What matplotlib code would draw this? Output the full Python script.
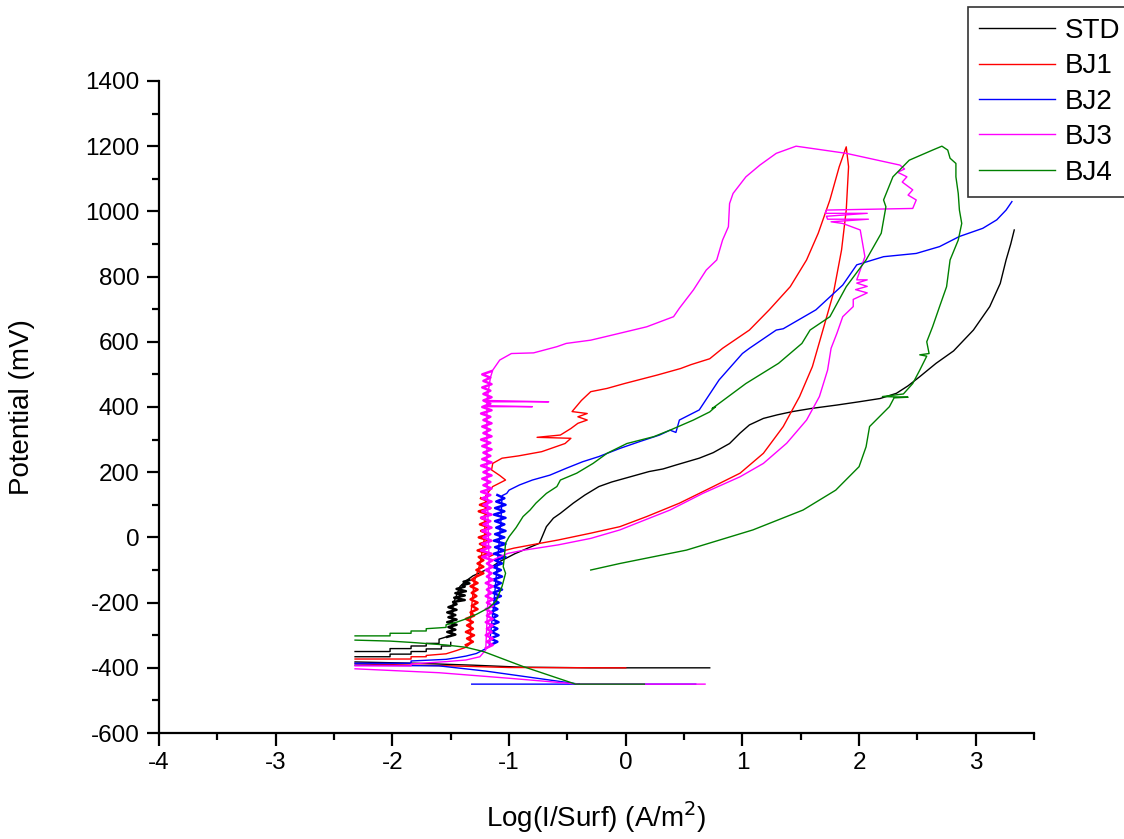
import matplotlib
matplotlib.use("Agg")
import matplotlib.pyplot as plt
from matplotlib.ticker import MultipleLocator

plt.rcParams['font.family'] = ['Liberation Sans', 'DejaVu Sans']
plt.rcParams['axes.unicode_minus'] = False

nan = float('nan')

# STD (black): cathodic tail, two stepped lines, anodic branch
std_x = [0.72, -0.3, -0.9, -1.3, -1.8, -2.32, nan,
         -2.32, -2.02, -2.02, -1.84, -1.84, -1.71, -1.71, -1.58, -1.58, -1.5, -1.5, nan,
         -2.32, -2.02, -2.02, -1.84, -1.84, -1.71, -1.71, -1.6, -1.6,
         -1.49, -1.48, -1.42, -1.36,
         -1.31, -1.25, -1.17, -1.08, -0.95, -0.82, -0.74, -0.68, -0.62, -0.56, -0.45, -0.35, -0.23,
         -0.12, -0.06, 0.1, 0.2, 0.32, 0.43, 0.63, 0.75, 0.89, 0.98, 1.06, 1.18, 1.3, 1.43, 1.6,
         1.81, 2.0, 2.18, 2.32, 2.42, 2.52, 2.66, 2.81, 2.98, 3.12, 3.21, 3.26, 3.3, 3.33]
std_y = [-400, -400, -398, -392, -386, -382, nan,
         -366, -366, -358, -358, -350, -350, -342, -342, -333, -333, -322, nan,
         -350, -350, -341, -341, -333, -333, -325, -325, -312,
         -300, -205, -150, -131,
         -118, -108, -95, -74, -50, -30, -18, 33, 59, 74, 105, 130, 156,
         170, 176, 192, 202, 210, 222, 243, 260, 288, 320, 345, 365, 376, 386, 396,
         406, 416, 426, 442, 465, 493, 534, 572, 636, 708, 779, 851, 900, 943]
# noisy column near the corrosion potential
std_band_x = [-1.53, -1.46, -1.53, -1.46, -1.52, -1.45, -1.53, -1.45, -1.52, -1.46, -1.53, -1.45, -1.52, -1.45,
              -1.48, -1.38, -1.47, -1.38, -1.46, -1.37, -1.45, -1.38,
              -1.40, -1.34, -1.39, -1.34]
std_band_y = [-305, -298, -290, -283, -275, -268, -260, -252, -245, -238, -230, -222, -214, -205,
              -198, -192, -185, -178, -171, -165, -158, -151,
              -146, -141, -136, -131]

# BJ1 (red)
bj1_x = [0.0, -1.0, -1.5, -2.32, nan,
         -2.32, -1.84, -1.84, -1.71, -1.71, -1.54, -1.45, -1.37,
         -1.33, -1.33, -1.30, -1.25, -1.21, -1.20,
         -1.14, -1.03, -1.08, -1.15, -1.14, -1.06, -0.92, -0.72, -0.64, -0.52, -0.47, -0.76, -0.56, -0.47,
         -0.41, -0.33, -0.41, -0.33, -0.46, -0.38, -0.30, -0.16, -0.01, 0.13, 0.27, 0.47, 0.56, 0.72,
         0.83, 1.06, 1.23, 1.41, 1.55, 1.65, 1.75, 1.83, 1.89,
         1.91, 1.89, 1.85, 1.78, 1.69, 1.60, 1.49, 1.35, 1.18, 0.98, 0.75, 0.46, 0.18, -0.05, -0.30,
         -0.58, -0.81, -0.96, -1.08, -1.17]
bj1_y = [-400, -399, -394, -388, nan,
         -373, -373, -366, -366, -362, -357, -347, -337,
         -325, -246, -138, -82, 0, 128,
         156, 176, 190, 207, 227, 243, 250, 263, 273, 288, 304, 307, 314, 334,
         350, 360, 370, 380, 386, 420, 447, 457, 472, 485, 498, 518, 530, 548,
         580, 636, 698, 769, 851, 933, 1035, 1137, 1198,
         1137, 1004, 882, 749, 636, 524, 432, 340, 258, 197, 156, 105, 64, 33, 13,
         -8, -23, -33, -44, -59]
bj1_band_x = [-1.37, -1.31, -1.36, -1.30, -1.37, -1.31, -1.36, -1.31, -1.37, -1.30,
              -1.33, -1.27, -1.32, -1.27, -1.33, -1.28, -1.32, -1.27, -1.33, -1.27, -1.32,
              -1.28, -1.22, -1.28, -1.22, -1.27, -1.22,
              -1.26, -1.17, -1.27, -1.18, -1.25, -1.16, -1.26, -1.17, -1.24, -1.16, -1.25, -1.18, -1.24,
              -1.17, -1.26, -1.16, -1.25, -1.17, -1.24]
bj1_band_y = [-330, -320, -310, -300, -290, -280, -270, -260, -250, -240,
              -230, -220, -210, -200, -190, -180, -170, -160, -150, -140, -130,
              -120, -110, -100, -90, -80, -70,
              -60, -50, -40, -30, -20, -10, 0, 10, 20, 30, 40, 50, 60,
              70, 80, 90, 100, 110, 120]

# BJ2 (blue)
bj2_x = [0.6, -1.32, nan,
         -2.32, -1.6, -1.2, -0.8, -0.4, nan,
         -2.32, -1.84, -1.84, -1.54, -1.45, -1.37, -1.28, -1.22, -1.17,
         -1.13, -1.10, -1.07, -1.06,
         -1.02, -1.0, -0.91, -0.80, -0.65, -0.51, -0.37, -0.23, -0.05, 0.12, 0.29, 0.38, 0.43, 0.46,
         0.63, 0.80, 1.0, 1.06, 1.29, 1.35, 1.63, 1.86, 1.98, 2.21, 2.49, 2.69, 2.86, 3.06, 3.18,
         3.26, 3.31]
bj2_y = [-450, -450, nan,
         -392, -394, -410, -430, -450, nan,
         -386, -386, -379, -374, -369, -364, -356, -345, -335,
         -200, -80, 50, 128,
         135, 145, 161, 176, 191, 212, 232, 248, 273, 294, 314, 329, 322, 360,
         391, 483, 564, 580, 636, 640, 698, 774, 836, 861, 871, 892, 923, 948, 974,
         1004, 1030]
bj2_band_x = [-1.16, -1.10, -1.16, -1.09, -1.15, -1.10, -1.16, -1.09, -1.15, -1.10, -1.16, -1.10, -1.15, -1.09,
              -1.14, -1.07, -1.14, -1.06, -1.13, -1.07, -1.14, -1.06, -1.13, -1.07, -1.14, -1.06,
              -1.12, -1.03, -1.13, -1.04, -1.12, -1.03, -1.13, -1.04, -1.12, -1.03, -1.11,
              -1.04, -1.12, -1.03, -1.13, -1.04, -1.12, -1.03, -1.11, -1.04, -1.10]
bj2_band_y = [-330, -320, -310, -300, -290, -280, -270, -260, -250, -240, -230, -220, -210, -200,
              -190, -180, -170, -160, -150, -140, -130, -120, -110, -100, -90, -80,
              -70, -60, -50, -40, -30, -20, -10, 0, 10, 20, 30,
              40, 50, 60, 70, 80, 90, 100, 110, 120, 130]

# BJ3 (magenta)
bj3_x = [0.68, -0.4, -1.0, -1.6, -2.32, nan,
         -2.32, -1.84, -1.84, -1.54, -1.37, -1.25, -1.2,
         -1.17, -1.19, -1.19, -0.80, -1.19, -1.19, -0.66, -1.19, -1.16, -1.14,
         -1.08, -0.98, -0.79, -0.59, -0.51, -0.30, -0.17, 0.18, 0.41, 0.46, 0.58, 0.69, 0.78, 0.83,
         0.88, 0.89, 0.92, 1.03, 1.15, 1.29, 1.46, 1.89, 2.35, 2.39, 2.33, 2.41, 2.37, 2.46, 2.42,
         2.49, 2.46, 1.72, 1.71, 2.07, 1.72, 1.73, 2.08, 1.76, 1.86, 2.01, 2.03, 2.05, 2.01, 1.98,
         2.07, 1.98, 2.07, 1.97, 2.07, 1.95, 1.95, 1.86, 1.81, 1.76, 1.73, 1.66, 1.55, 1.38, 1.18,
         0.98, 0.66, 0.38, 0.09, -0.05, -0.30, -0.58, -0.87, -1.01, -1.14]
bj3_y = [-450, -450, -432, -415, -403, nan,
         -394, -394, -388, -381, -376, -366, -345,
         -100, 200, 401, 401, 404, 416, 416, 420, 490, 513,
         544, 564, 566, 585, 595, 605, 616, 646, 677, 703, 759, 820, 851, 912,
         953, 1024, 1055, 1106, 1142, 1178, 1200, 1178, 1142, 1130, 1120, 1106, 1090, 1066, 1050,
         1035, 1009, 1004, 994, 994, 985, 976, 976, 968, 963, 943, 902, 861, 820, 790,
         790, 780, 770, 760, 750, 730, 708, 677, 626, 580, 513, 432, 360, 289, 227,
         186, 135, 84, 43, 23, -3, -23, -39, -49, -69]
bj3_band_x = [-1.20, -1.14, -1.19, -1.14, -1.20, -1.15, -1.19, -1.14, -1.20, -1.14,
              -1.19, -1.15, -1.20, -1.14, -1.19, -1.14, -1.20, -1.15, -1.19, -1.14,
              -1.20, -1.14, -1.19, -1.15, -1.20, -1.14, -1.19, -1.14,
              -1.23, -1.15, -1.24, -1.16, -1.23, -1.15, -1.22, -1.16, -1.23, -1.15,
              -1.22, -1.16, -1.24, -1.15, -1.23, -1.16, -1.22, -1.15, -1.23, -1.16,
              -1.24, -1.15, -1.22, -1.16, -1.23, -1.15, -1.22, -1.16, -1.24, -1.15,
              -1.23, -1.16, -1.22, -1.15, -1.23, -1.16, -1.24, -1.15, -1.22, -1.16,
              -1.23, -1.15, -1.22, -1.16, -1.24, -1.15, -1.23, -1.16, -1.22, -1.15,
              -1.22, -1.16, -1.23, -1.15, -1.22, -1.16, -1.23, -1.15]
bj3_band_y = [-340, -330, -320, -310, -300, -290, -280, -270, -260, -250,
              -240, -230, -220, -210, -200, -190, -180, -170, -160, -150,
              -140, -130, -120, -110, -100, -90, -80, -70,
              -60, -50, -40, -30, -20, -10, 0, 10, 20, 30,
              40, 50, 60, 70, 80, 90, 100, 110, 120, 130,
              140, 150, 160, 170, 180, 190, 200, 210, 220, 230,
              240, 250, 260, 270, 280, 290, 300, 310, 320, 330,
              340, 350, 360, 370, 380, 390, 400, 410, 420, 430,
              440, 450, 460, 470, 480, 490, 500, 510]

# BJ4 (green)
bj4_x = [0.16, -0.43, -0.88, -1.22, -1.37, -1.54, -1.84, -2.02, -2.32, nan,
         -2.32, -2.02, -2.02, -1.84, -1.84, -1.71, -1.71, -1.54, -1.54, -1.45, -1.37, -1.28, -1.17,
         -1.11, -1.06, -1.03, -1.05, -1.04, -1.03, -1.0, -0.94, -0.88, -0.82, -0.77, -0.74, -0.68,
         -0.59, -0.56, -0.42, -0.28, -0.16, 0.01, 0.24, 0.38, 0.58, 0.72, 0.77, 0.74, 1.03, 1.31, 1.51,
         1.58, 1.75, 1.89, 2.06, 2.19, 2.23, 2.21, 2.29, 2.43, 2.63, 2.71, 2.76, 2.78, 2.83, 2.83,
         2.85, 2.86, 2.88, 2.85, 2.78, 2.75, 2.69, 2.63, 2.58, 2.60, 2.52, 2.58, 2.52, 2.46, 2.38,
         2.20, 2.42, 2.30, 2.26, 2.09, 2.06, 2.00, 1.80, 1.52, 1.09, 0.52, -0.05, -0.30]
bj4_y = [-450, -450, -396, -350, -337, -330, -322, -318, -315, nan,
         -302, -302, -294, -294, -287, -287, -280, -276, -268, -260, -250, -236, -215,
         -195, -150, -110, -90, -59, -18, 2, 30, 64, 84, 105, 115, 135,
         156, 176, 197, 227, 258, 288, 309, 329, 360, 385, 401, 395, 472, 534, 595,
         636, 677, 769, 851, 933, 1014, 1035, 1106, 1157, 1188, 1200, 1188, 1163, 1147, 1106,
         1055, 1004, 963, 912, 851, 769, 708, 646, 600, 564, 560, 556, 513, 472, 440,
         432, 430, 428, 401, 340, 278, 217, 145, 84, 23, -39, -80, -100]

labels = ['STD', 'BJ1', 'BJ2', 'BJ3', 'BJ4']
colors = ['black', '#ff0000', '#0000ff', '#ff00ff', '#008000']
series = [(std_x, std_y), (bj1_x, bj1_y), (bj2_x, bj2_y), (bj3_x, bj3_y), (bj4_x, bj4_y)]
bands = [(std_band_x, std_band_y), (bj1_band_x, bj1_band_y), (bj2_band_x, bj2_band_y),
         (bj3_band_x, bj3_band_y), None]

fig = plt.figure(figsize=(11.24, 8.39), dpi=100)
ax = fig.add_axes([0.1415, 0.1263, 0.7785, 0.7772])

for (xs, ys), band, lab, col in zip(series, bands, labels, colors):
    ax.plot(xs, ys, color=col, lw=1.0, label=lab)
    if band is not None:
        ax.plot(band[0], band[1], color=col, lw=1.8)

ax.set_xlim(-4, 3.5)
ax.set_ylim(-600, 1400)
ax.xaxis.set_major_locator(MultipleLocator(1))
ax.xaxis.set_minor_locator(MultipleLocator(0.5))
ax.yaxis.set_major_locator(MultipleLocator(200))
ax.yaxis.set_minor_locator(MultipleLocator(100))

for s in ['top', 'right']:
    ax.spines[s].set_visible(False)
for s in ['left', 'bottom']:
    ax.spines[s].set_linewidth(1.6)

ax.tick_params(which='major', direction='out', length=9, width=1.6, labelsize=17.5, pad=5)
ax.tick_params(which='minor', direction='out', length=5, width=1.6)

ax.set_xlabel('Log(I/Surf) (A/m$^2$)', fontsize=20, labelpad=18)
ax.set_ylabel('Potential (mV)', fontsize=20, labelpad=36)

# legend box runs past the right edge of the figure, as in the original
leg = ax.legend(loc='upper left', bbox_to_anchor=(0.861, 0.992), bbox_transform=fig.transFigure,
                fontsize=20, frameon=True, fancybox=False, framealpha=1, borderpad=0.4,
                handlelength=2.75, handletextpad=0.35, labelspacing=0.34, borderaxespad=0)
leg.get_frame().set_edgecolor('#333333')
leg.get_frame().set_linewidth(1.2)

fig.savefig('out.png', dpi=100)
